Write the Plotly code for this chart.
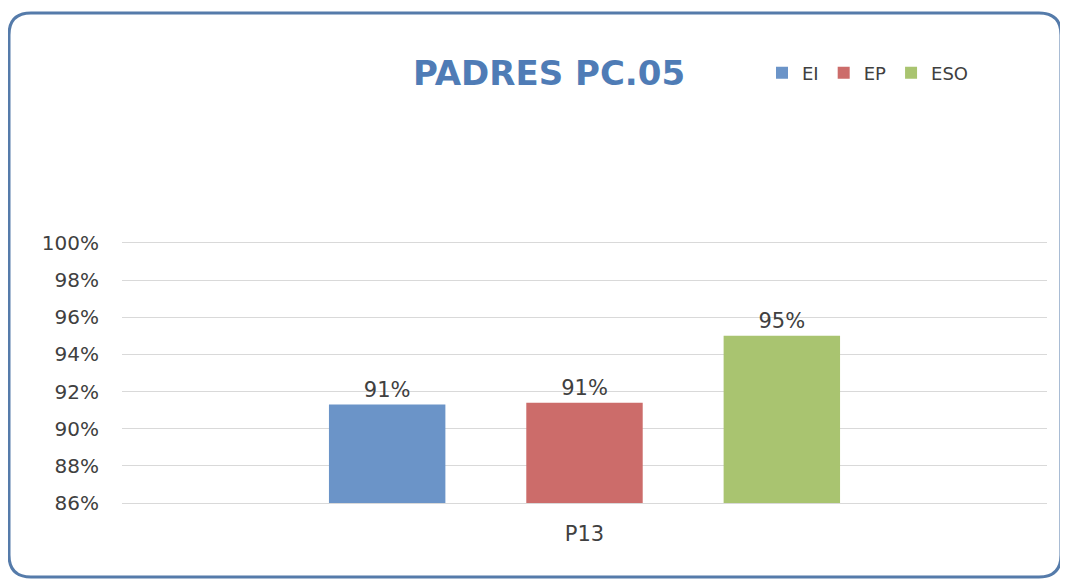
import plotly.graph_objects as go

# ---- data ----
categories = ["P13"]
series_names = ["EI", "EP", "ESO"]
values_ei = [91.3]
values_ep = [91.4]
values_eso = [95.0]
series_values = [values_ei, values_ep, values_eso]
series_colors = ["#6B94C8", "#CC6C6A", "#A9C470"]
tick_vals = [86, 88, 90, 92, 94, 96, 98, 100]
tick_text = [f"{v}%" for v in tick_vals]

# the page body adds an 8px margin, so the figure is drawn 8px in from the corner
OFF = 8
W, H = 1068 - OFF, 580 - OFF
ML, MR, MT, MB = 122 - OFF, 21, 243 - OFF, 77
PW, PH = W - ML - MR, H - MT - MB
FONT = "DejaVu Sans"

def px(x):
    """screen x (reference pixels) -> paper coordinate"""
    return (x - OFF - ML) / PW

def py(y):
    """screen y (reference pixels) -> paper coordinate"""
    return (H - MB - (y - OFF)) / PH

fig = go.Figure()
for name, vals, col in zip(series_names, series_values, series_colors):
    fig.add_trace(go.Bar(
        name=name, x=categories, y=vals, base=0,
        marker=dict(color=col, line=dict(width=0)),
        texttemplate="%{y:.0f}%", textposition="outside",
        textfont=dict(family=FONT, size=21, color="#404040"),
        cliponaxis=False,
    ))

# rounded frame
x0, y0, x1, y1, r = 9, 13, 1061, 577, 22
path = (f"M {px(x0+r)},{py(y0)} L {px(x1-r)},{py(y0)} "
        f"Q {px(x1)},{py(y0)} {px(x1)},{py(y0+r)} "
        f"L {px(x1)},{py(y1-r)} Q {px(x1)},{py(y1)} {px(x1-r)},{py(y1)} "
        f"L {px(x0+r)},{py(y1)} Q {px(x0)},{py(y1)} {px(x0)},{py(y1-r)} "
        f"L {px(x0)},{py(y0+r)} Q {px(x0)},{py(y0)} {px(x0+r)},{py(y0)} Z")
fig.add_shape(type="path", path=path, xref="paper", yref="paper",
              line=dict(color="#557BAA", width=3), layer="below")

fig.update_layout(
    width=W, height=H,
    margin=dict(l=ML, r=MR, t=MT, b=MB),
    paper_bgcolor="white", plot_bgcolor="white",
    barmode="group", bargap=0.36, bargroupgap=0.41,
    title=dict(text="<b>PADRES PC.05</b>", xref="container", x=(549 - OFF) / W,
               xanchor="center", yref="container", y=1 - (73 - OFF) / H, yanchor="middle",
               font=dict(family=FONT, size=34, color="#4F7CB6")),
    legend=dict(orientation="h", x=px(868), xanchor="center", y=py(73), yanchor="middle",
                font=dict(family=FONT, size=18, color="#404040"),
                itemwidth=30, traceorder="normal", bgcolor="rgba(0,0,0,0)"),
    showlegend=True,
    font=dict(family=FONT, color="#404040"),
)
fig.update_yaxes(range=[86, 100], tickvals=tick_vals, ticktext=tick_text,
                 showgrid=True, gridcolor="#D9D9D9", gridwidth=1,
                 zeroline=False, showline=False, ticks="", ticklen=0,
                 ticklabelstandoff=22,
                 tickfont=dict(family=FONT, size=20, color="#404040"))
fig.update_xaxes(showgrid=False, showline=True, mirror=True,
                 linecolor="#D9D9D9", linewidth=1,
                 ticks="", ticklabelstandoff=12,
                 tickfont=dict(family=FONT, size=21, color="#404040"))

fig.write_html("out.html")
